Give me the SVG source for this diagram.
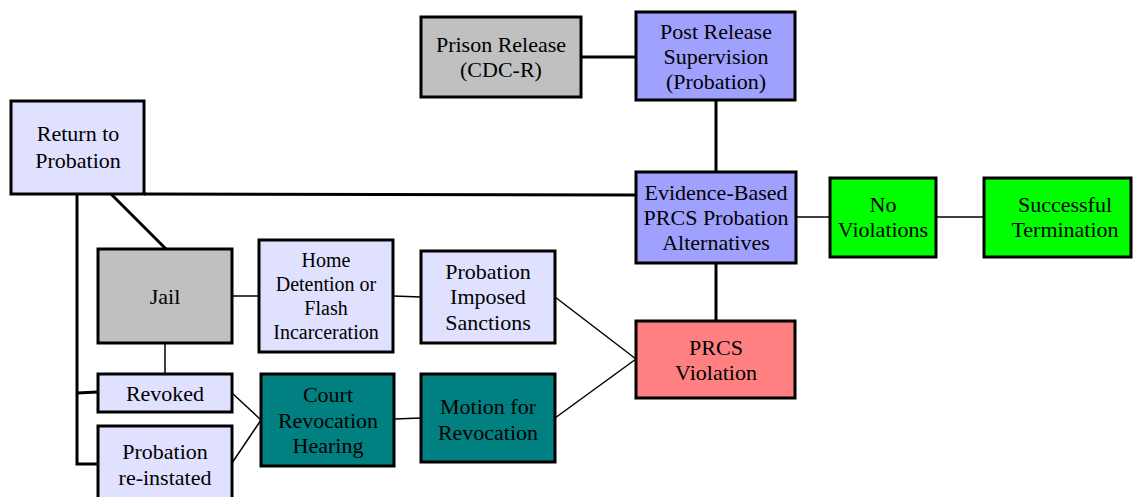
<svg xmlns="http://www.w3.org/2000/svg" width="1134" height="497" viewBox="0 0 1134 497">
<style>
.box{stroke:#000;stroke-width:3}
.t{font-family:'Liberation Serif',serif;font-size:22px;text-anchor:middle;fill:#000}
.sm{font-size:20px}
.lav{fill:#E0E0FF}.blue{fill:#A0A0FF}.gray{fill:#C0C0C0}.green{fill:#00FF00}.teal{fill:#008080}.red{fill:#FF8080}
.thick{stroke:#000;stroke-width:3;fill:none}
.thin{stroke:#000;stroke-width:1.5;fill:none}
</style>
<rect width="1134" height="497" fill="#fff"/>
<g id="connectors">
<line class="thick" x1="581" y1="57" x2="636" y2="57"/>
<line class="thick" x1="716" y1="100" x2="716" y2="172"/>
<line class="thick" x1="716" y1="263" x2="716" y2="321"/>
<line class="thick" x1="144" y1="194" x2="636" y2="195"/>
<line class="thick" x1="111" y1="194" x2="166" y2="249"/>
<polyline class="thick" points="77,194 77,464 98,464"/>
<line class="thick" x1="77" y1="393" x2="98" y2="392"/>
<line class="thin" x1="796" y1="217" x2="830" y2="217"/>
<line class="thin" x1="936" y1="217" x2="984" y2="217"/>
<line class="thin" x1="232" y1="296" x2="259" y2="296"/>
<line class="thin" x1="393" y1="296" x2="421" y2="297"/>
<line class="thin" x1="165" y1="343" x2="165" y2="374"/>
<line class="thin" x1="232" y1="393" x2="261" y2="420"/>
<line class="thin" x1="232" y1="463" x2="261" y2="420"/>
<line class="thin" x1="394" y1="419" x2="421" y2="418"/>
<line class="thin" x1="555" y1="297" x2="636" y2="359"/>
<line class="thin" x1="555" y1="418" x2="636" y2="359"/>
</g>
<g id="prison-release"><rect class="box gray" x="421" y="17" width="160" height="80"/><text class="t" font-family="Liberation Serif" x="501" y="52">Prison Release</text><text class="t" font-family="Liberation Serif" x="501" y="77">(CDC-R)</text></g>
<g id="post-release"><rect class="box blue" x="636" y="12" width="159" height="88"/><text class="t" font-family="Liberation Serif" x="716" y="39">Post Release</text><text class="t" font-family="Liberation Serif" x="716" y="64">Supervision</text><text class="t" font-family="Liberation Serif" x="716" y="89">(Probation)</text></g>
<g id="return-to-probation"><rect class="box lav" x="11" y="101" width="133" height="93"/><text class="t" font-family="Liberation Serif" x="78" y="141">Return to</text><text class="t" font-family="Liberation Serif" x="78" y="168">Probation</text></g>
<g id="evidence-based"><rect class="box blue" x="636" y="172" width="160" height="91"/><text class="t" font-family="Liberation Serif" x="716" y="200">Evidence-Based</text><text class="t" font-family="Liberation Serif" x="716" y="225">PRCS Probation</text><text class="t" font-family="Liberation Serif" x="716" y="250">Alternatives</text></g>
<g id="no-violations"><rect class="box green" x="830" y="178" width="106" height="79"/><text class="t" font-family="Liberation Serif" x="883" y="212">No</text><text class="t" font-family="Liberation Serif" x="883" y="237">Violations</text></g>
<g id="successful-termination"><rect class="box green" x="984" y="178" width="147" height="79"/><text class="t" font-family="Liberation Serif" x="1065" y="212">Successful</text><text class="t" font-family="Liberation Serif" x="1065" y="237">Termination</text></g>
<g id="jail"><rect class="box gray" x="98" y="249" width="134" height="94"/><text class="t" font-family="Liberation Serif" x="165" y="304">Jail</text></g>
<g id="home-detention"><rect class="box lav" x="259" y="240" width="134" height="112"/><text class="t sm" font-family="Liberation Serif" x="326" y="267">Home</text><text class="t sm" font-family="Liberation Serif" x="326" y="291">Detention or</text><text class="t sm" font-family="Liberation Serif" x="326" y="315">Flash</text><text class="t sm" font-family="Liberation Serif" x="326" y="339">Incarceration</text></g>
<g id="probation-imposed-sanctions"><rect class="box lav" x="421" y="251" width="134" height="92"/><text class="t" font-family="Liberation Serif" x="488" y="279">Probation</text><text class="t" font-family="Liberation Serif" x="488" y="304">Imposed</text><text class="t" font-family="Liberation Serif" x="488" y="330">Sanctions</text></g>
<g id="prcs-violation"><rect class="box red" x="636" y="321" width="159" height="77"/><text class="t" font-family="Liberation Serif" x="716" y="355">PRCS</text><text class="t" font-family="Liberation Serif" x="716" y="380">Violation</text></g>
<g id="revoked"><rect class="box lav" x="98" y="374" width="134" height="38"/><text class="t" font-family="Liberation Serif" x="165" y="401">Revoked</text></g>
<g id="probation-reinstated"><rect class="box lav" x="98" y="426" width="134" height="74"/><text class="t" font-family="Liberation Serif" x="165" y="459">Probation</text><text class="t" font-family="Liberation Serif" x="165" y="485">re-instated</text></g>
<g id="court-revocation-hearing"><rect class="box teal" x="261" y="374" width="133" height="92"/><text class="t" font-family="Liberation Serif" x="328" y="402">Court</text><text class="t" font-family="Liberation Serif" x="328" y="428">Revocation</text><text class="t" font-family="Liberation Serif" x="328" y="453">Hearing</text></g>
<g id="motion-for-revocation"><rect class="box teal" x="421" y="374" width="134" height="88"/><text class="t" font-family="Liberation Serif" x="488" y="414">Motion for</text><text class="t" font-family="Liberation Serif" x="488" y="440">Revocation</text></g>
</svg>
